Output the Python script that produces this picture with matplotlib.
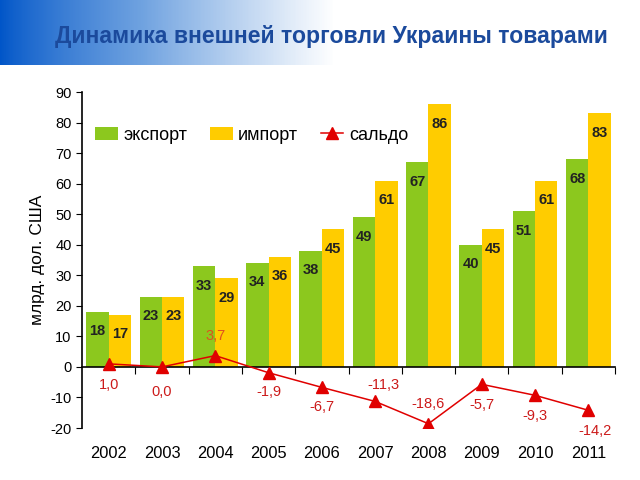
import numpy as np
import matplotlib
matplotlib.use("Agg")
import matplotlib.pyplot as plt
from matplotlib.colors import LinearSegmentedColormap
from matplotlib.transforms import blended_transform_factory

plt.rcParams['font.family'] = ['Liberation Sans', 'DejaVu Sans']
plt.rcParams['axes.unicode_minus'] = False

years = ['2002', '2003', '2004', '2005', '2006', '2007', '2008', '2009', '2010', '2011']
export = [18, 23, 33, 34, 38, 49, 67, 40, 51, 68]
imports = [17, 23, 29, 36, 45, 61, 86, 45, 61, 83]
saldo = [1.0, 0.0, 3.7, -1.9, -6.7, -11.3, -18.6, -5.7, -9.3, -14.2]

# label offsets for saldo values (points)
saldo_off = [(0, -15), (0, -18), (0, 14), (0, -14), (0, -14),
             (6, 12), (0, 14), (0, -15), (0, -15), (5, -15)]

green = '#8CC81E'
yellow = '#FFCC00'
red = '#E00000'

fig = plt.figure(figsize=(6.4, 4.8), dpi=100)

# header gradient band
bg = fig.add_axes([0, 1 - 65 / 480, 1, 65 / 480])
grad = np.linspace(0, 1, 640)
grad = np.clip(grad / (335 / 640), 0, 1) ** 0.8
cmap = LinearSegmentedColormap.from_list('hdr', ['#0055C8', '#6FA2E0', '#FFFFFF'])
bg.imshow(grad[None, :], aspect='auto', cmap=cmap, extent=[0, 1, 0, 1])
bg.axis('off')
fig.text(0.086, 1 - 37 / 480, 'Динамика внешней торговли Украины товарами',
         fontsize=16.6, fontweight='bold', color='#1B4A9C', va='center', ha='left')

ax = fig.add_axes([82 / 640, 1 - 428 / 480, 533 / 640, 336 / 480])
x = np.arange(len(years))
w = 0.42
b1 = ax.bar(x - w / 2, export, w, color=green, label='экспорт', zorder=2)
b2 = ax.bar(x + w / 2, imports, w, color=yellow, label='импорт', zorder=2)
ln, = ax.plot(x, saldo, color=red, lw=1.1, marker='^', ms=9, label='сальдо', zorder=4)

for xi, v in zip(x, export):
    ax.annotate(str(v), (xi - w / 2, v), xytext=(0, -14), textcoords='offset points',
                ha='center', va='center', fontsize=10.5, fontweight='bold', color='#222222', zorder=3)
for xi, v in zip(x, imports):
    ax.annotate(str(v), (xi + w / 2, v), xytext=(0, -14), textcoords='offset points',
                ha='center', va='center', fontsize=10.5, fontweight='bold', color='#222222', zorder=3)
for xi, v, off in zip(x, saldo, saldo_off):
    c = '#E05020' if v > 2 else '#CC1A1A'
    ax.annotate(('%.1f' % v).replace('.', ','), (xi, v), xytext=off, textcoords='offset points',
                ha='center', va='center', fontsize=10.5, color=c, zorder=5)

ax.set_xlim(-0.5, len(years) - 0.5)
ax.set_ylim(-20, 90)
ax.set_yticks(range(-20, 91, 10))
ax.tick_params(axis='y', labelsize=10.5, length=4, direction='out')
ax.spines['top'].set_visible(False)
ax.spines['right'].set_visible(False)
ax.spines['bottom'].set_position(('data', 0))
ax.spines['left'].set_linewidth(1.2)
ax.spines['bottom'].set_linewidth(1.2)
ax.set_xticks(np.arange(len(years)) + 0.5)
ax.set_xticklabels([])
ax.tick_params(axis='x', length=5, direction='out')
trans = blended_transform_factory(ax.transData, ax.transAxes)
for xi, yr in zip(x, years):
    ax.text(xi, -0.075, yr, transform=trans, ha='center', va='center', fontsize=11.8)

ax.set_ylabel('млрд. дол. США', fontsize=12.5)
ax.yaxis.set_label_coords(-0.07, 0.5)

ax.legend([b1, b2, ln], ['экспорт', 'импорт', 'сальдо'], loc='center left',
          bbox_to_anchor=(0.024, 0.872), ncol=3, frameon=False, borderaxespad=0, borderpad=0,
          fontsize=13, handlelength=1.27, handleheight=0.75, columnspacing=1.25, handletextpad=0.3)

fig.savefig('out.png', dpi=100)
